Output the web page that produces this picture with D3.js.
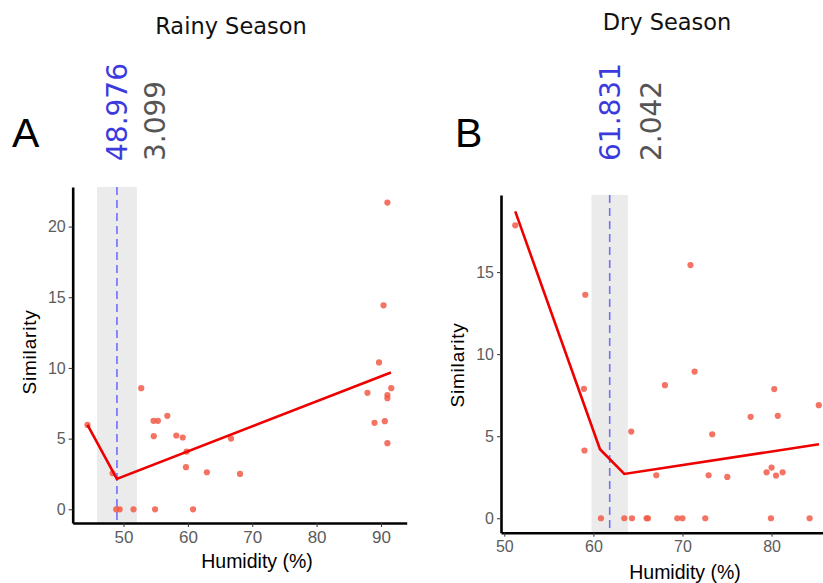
<!DOCTYPE html>
<html>
<head>
<meta charset="UTF-8">
<title>Similarity vs Humidity</title>
<style>
  body { margin: 0; background: #fff; }
  .axis text { font-family: "Liberation Sans", Arial, sans-serif; fill: #5c5c5c; }
  .axis .domain { stroke: #000; stroke-width: 2.6px; }
  .axis .tick line { stroke: #333; stroke-width: 1px; }
</style>
</head>
<body>
<svg id="chart" width="823" height="583"></svg>
<script src="https://d3js.org/d3.v7.min.js"></script>
<script>
// ---- data ----
// Rainy season (panel A)
const rainyX = [44.4, 48.3, 52.75, 54.66, 55.34, 54.7, 56.8, 58.2, 59.2, 59.8, 59.7, 62.95, 66.7, 68.1,
                48.86, 49.4, 51.55, 54.9, 60.8,
                91.0, 90.4, 89.7, 87.9, 91.6, 91.0, 91.0, 89.0, 90.6, 91.0];
const rainyY = [5.97, 2.55, 8.57, 6.26, 6.26, 5.17, 6.61, 5.22, 5.08, 4.08, 2.98, 2.62, 5.0, 2.5,
                0, 0, 0, 0, 0,
                21.7, 14.43, 10.39, 8.24, 8.57, 8.08, 7.86, 6.12, 6.23, 4.68];
const rainyFitX = [44.4, 48.96, 91.55];
const rainyFitY = [5.97, 2.15, 9.68];
const rainyBreak = 48.976, rainyErr = 3.099;

// Dry season (panel B)
const dryX = [51.23, 59.09, 58.94, 59.0, 70.9, 71.36, 68.03, 64.25, 67.06, 73.34, 72.93, 75.03, 77.65,
              80.3, 80.7, 79.44, 80.0, 80.5, 81.24, 85.3,
              60.85, 63.47, 64.33, 65.97, 66.12, 69.42, 70.0, 72.56, 79.93, 84.27];
const dryY = [17.85, 13.62, 7.89, 4.13, 15.43, 8.94, 8.11, 5.28, 2.62, 5.12, 2.62, 2.52, 6.18,
              7.87, 6.24, 2.8, 3.09, 2.6, 2.8, 6.89,
              0, 0, 0, 0, 0, 0, 0, 0, 0, 0];
const dryFitX = [51.23, 60.74, 63.47, 85.32];
const dryFitY = [18.7, 4.21, 2.70, 4.51];
const dryBreak = 61.831, dryErr = 2.042;

const xTicksA = [50, 60, 70, 80, 90], yTicksA = [0, 5, 10, 15, 20];
const xTicksB = [50, 60, 70, 80], yTicksB = [0, 5, 10, 15];

const svg = d3.select("#chart");

function panel(cfg) {
  const x = d3.scaleLinear().domain(cfg.xDomain).range(cfg.xRange);
  const y = d3.scaleLinear().domain(cfg.yDomain).range(cfg.yRange);
  const g = svg.append("g");

  // confidence band of the breakpoint
  g.append("rect")
    .attr("x", x(cfg.brk - cfg.err))
    .attr("width", x(cfg.brk + cfg.err) - x(cfg.brk - cfg.err))
    .attr("y", cfg.yRange[1])
    .attr("height", cfg.yRange[0] - cfg.yRange[1])
    .attr("fill", "#ebebeb");

  // breakpoint line
  g.append("line")
    .attr("x1", x(cfg.brk)).attr("x2", x(cfg.brk))
    .attr("y1", cfg.yRange[1]).attr("y2", cfg.yRange[0])
    .attr("stroke", "#7070ff").attr("stroke-width", 1.6)
    .attr("stroke-dasharray", "8,5");

  // points
  g.selectAll("circle")
    .data(cfg.px.map((v, i) => [v, cfg.py[i]]))
    .join("circle")
    .attr("cx", d => x(d[0]))
    .attr("cy", d => y(d[1]))
    .attr("r", 3.1)
    .attr("fill", "#f25a47")
    .attr("opacity", 0.85);

  // segmented fit
  g.append("path")
    .datum(cfg.fx.map((v, i) => [v, cfg.fy[i]]))
    .attr("d", d3.line().x(d => x(d[0])).y(d => y(d[1])))
    .attr("fill", "none")
    .attr("stroke", "#ee0000")
    .attr("stroke-width", 2.6);

  // axes
  g.append("g")
    .attr("class", "axis")
    .attr("transform", "translate(0," + cfg.yRange[0] + ")")
    .call(d3.axisBottom(x).tickValues(cfg.xTicks).tickSize(4).tickSizeOuter(0).tickPadding(4))
    .selectAll("text").style("font-size", cfg.xTickSize + "px");

  g.append("g")
    .attr("class", "axis")
    .attr("transform", "translate(" + cfg.xRange[0] + ",0)")
    .call(d3.axisLeft(y).tickValues(cfg.yTicks).tickSize(4).tickSizeOuter(0).tickPadding(3))
    .selectAll("text").style("font-size", cfg.yTickSize + "px");

  // axis titles
  g.append("text")
    .attr("x", cfg.xTitle[0]).attr("y", cfg.xTitle[1])
    .attr("text-anchor", "middle")
    .style("font-family", "Liberation Sans, Arial, sans-serif")
    .style("font-size", "19.5px")
    .text("Humidity (%)");

  g.append("text")
    .attr("transform", "translate(" + cfg.yTitle[0] + "," + cfg.yTitle[1] + ") rotate(-90)")
    .attr("text-anchor", "middle")
    .style("font-family", "Liberation Sans, Arial, sans-serif")
    .style("font-size", "19px")
    .style("letter-spacing", "0.8px")
    .text("Similarity");

  // season title
  g.append("text")
    .attr("x", cfg.title[0]).attr("y", cfg.title[1])
    .attr("text-anchor", "middle")
    .style("font-family", "DejaVu Sans, Verdana, sans-serif")
    .style("font-size", "22.5px")
    .attr("fill", "#111")
    .text(cfg.titleText);

  // panel letter
  g.append("text")
    .attr("x", cfg.letter[0]).attr("y", cfg.letter[1])
    .style("font-family", "Liberation Sans, Arial, sans-serif")
    .style("font-size", "41px")
    .text(cfg.letterText);

  // breakpoint and its error, rotated
  g.append("text")
    .attr("transform", "translate(" + (x(cfg.brk) + 10) + ",161) rotate(-90)")
    .style("font-family", "DejaVu Sans, Verdana, sans-serif")
    .style("font-size", "28px")
    .attr("fill", "#3b3bdd")
    .text(cfg.brk.toFixed(3));

  g.append("text")
    .attr("transform", "translate(" + cfg.errX + ",161) rotate(-90)")
    .style("font-family", "DejaVu Sans, Verdana, sans-serif")
    .style("font-size", "28px")
    .attr("fill", "#555")
    .text(cfg.err.toFixed(3));
}

panel({
  xDomain: [42.1, 94], xRange: [72.7, 406.7],
  yDomain: [-0.97, 22.8], yRange: [523, 187],
  xTicks: xTicksA, yTicks: yTicksA, xTickSize: 17, yTickSize: 16,
  px: rainyX, py: rainyY, fx: rainyFitX, fy: rainyFitY,
  brk: rainyBreak, err: rainyErr, errX: 165,
  xTitle: [257, 568], yTitle: [36, 352],
  title: [231, 34], titleText: "Rainy Season",
  letter: [12, 147], letterText: "A"
});

panel({
  xDomain: [49.63, 86.2], xRange: [501, 826.8],
  yDomain: [-0.88, 19.7], yRange: [532.7, 195],
  xTicks: xTicksB, yTicks: yTicksB, xTickSize: 16, yTickSize: 16,
  px: dryX, py: dryY, fx: dryFitX, fy: dryFitY,
  brk: dryBreak, err: dryErr, errX: 661,
  xTitle: [685, 579], yTitle: [464, 365],
  title: [667, 30], titleText: "Dry Season",
  letter: [455, 147], letterText: "B"
});
</script>
</body>
</html>
